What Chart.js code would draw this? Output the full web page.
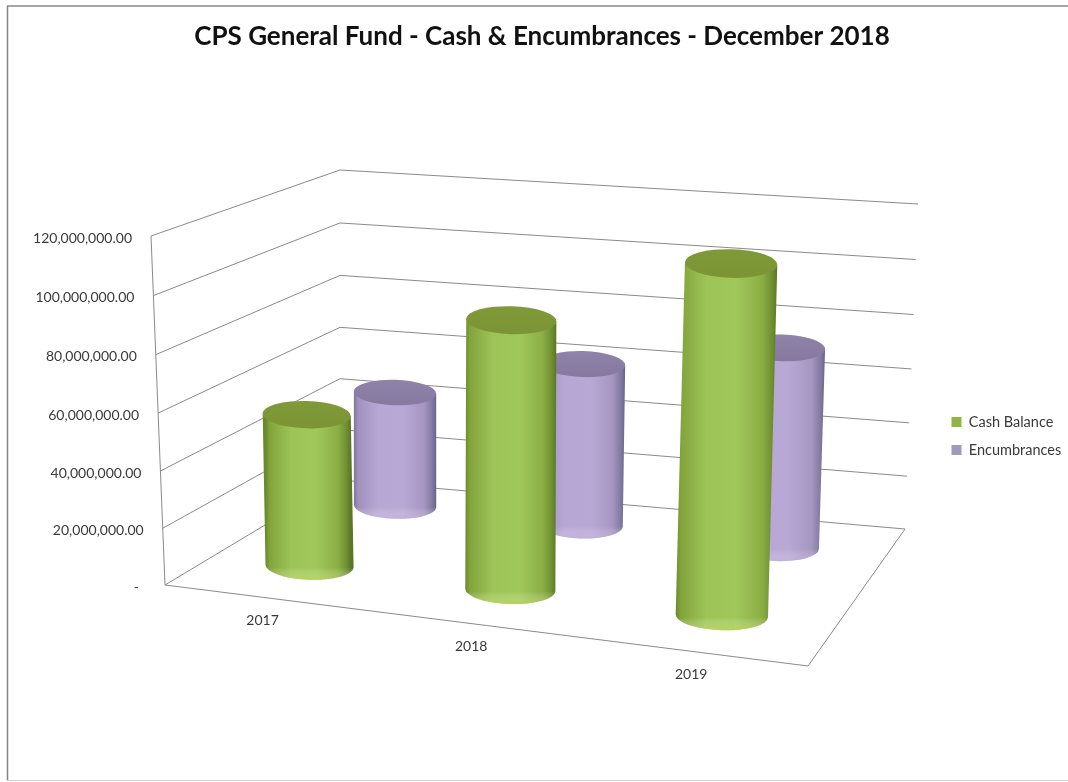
<!DOCTYPE html>
<html>
<head>
<meta charset="utf-8">
<title>CPS General Fund</title>
<script src="https://cdn.jsdelivr.net/npm/chart.js@4"></script>
<style>
  html, body { margin: 0; padding: 0; background: #fff; }
  canvas { display: block; }
</style>
</head>
<body>
<canvas id="chart" width="1068" height="782"></canvas>
<script>
// Values
const years = ['2017', '2018', '2019'];
const cashBalance = [54100000, 93300000, 118200000];
const encumbrances = [43500000, 60400000, 73000000];
const axisMax = 120000000;
const axisStep = 20000000;

// Corners of the 3D plot box on screen: floor and ceiling, front/back, left/right
const floor = { fl: [165, 585], fr: [808, 666], bl: [340, 480], br: [905, 529] };
const ceiling = { fl: [151, 236], fr: [822, 290], bl: [340, 170], br: [918, 204] };
const seriesDepth = [0.285, 0.83];
const radiusRatio = 0.129;
const capFlatness = 0.31;

const mix = (a, b, t) => [a[0] + (b[0] - a[0]) * t, a[1] + (b[1] - a[1]) * t];
function corner(plane, u, v) {
  return mix(mix(plane.fl, plane.fr, u), mix(plane.bl, plane.br, u), v);
}
// u: along categories, v: into the depth, w: up the value axis (slightly foreshortened)
function project(u, v, w) {
  const eased = w - 0.03 * w * (1 - w);
  return mix(corner(floor, u, v), corner(ceiling, u, v), eased);
}
// Spacing of objects standing on the floor narrows toward the far side of the box
const floorU = (u, v) => u - 0.08 * u * (1 - u) - 0.0101 * v;
const floorV = (u, v) => v * (1 - 0.075 * u * u);

const heightFraction = (scale, pixel) => (scale.bottom - pixel) / (scale.bottom - scale.top);
const categoryFraction = (scale, pixel) => (pixel - scale.left) / scale.width;

const palettes = [
  {
    body: [[0, '#6a8a2b'], [0.05, '#82a43b'], [0.3, '#9dc457'], [0.6, '#a0c75a'], [0.85, '#8bae45'], [0.95, '#6f8f30'], [1, '#5a7627']],
    capA: '#7c9433', capB: '#7f9a3a', rim: 'rgba(196,222,84,0.5)'
  },
  {
    body: [[0, '#7f7499'], [0.05, '#a091bd'], [0.3, '#b7a7d4'], [0.6, '#b8a8d5'], [0.85, '#a596c2'], [0.95, '#837aa0'], [1, '#6a628c']],
    capA: '#85799f', capB: '#8f83a9', rim: 'rgba(200,186,226,0.45)'
  }
];

// Bar controller that paints each bar element as a cylinder inside the plot box
class CylinderController extends Chart.BarController {
  draw() {
    const { ctx, scales } = this.chart;
    const meta = this._cachedMeta;
    const colors = palettes[this.index];
    const depth = seriesDepth[this.index];
    meta.data.forEach((bar) => {
      const rawU = categoryFraction(scales.x, bar.x);
      const u = floorU(rawU, depth);
      const v = floorV(rawU, depth);
      const wTop = heightFraction(scales.y, bar.y);
      const base = project(u, v, 0);
      const top = project(u, v, wTop);
      const full = project(u, v, 1);
      const rx = Math.hypot(full[0] - base[0], full[1] - base[1]) * radiusRatio;
      const ry = rx * capFlatness;
      const tilt = 0.03;
      const dx = Math.cos(tilt) * rx, dy = Math.sin(tilt) * rx;

      ctx.save();
      const body = ctx.createLinearGradient(base[0] - rx, 0, top[0] + rx, 0);
      colors.body.forEach(([stop, color]) => body.addColorStop(stop, color));
      ctx.beginPath();
      ctx.moveTo(top[0] - dx, top[1] - dy);
      ctx.lineTo(top[0] + dx, top[1] + dy);
      ctx.lineTo(base[0] + dx, base[1] + dy);
      ctx.ellipse(base[0], base[1], rx, ry, tilt, 0, Math.PI);
      ctx.closePath();
      ctx.fillStyle = body;
      ctx.fill();

      // lighter rim around the foot of the cylinder
      ctx.clip();
      const rim = ctx.createLinearGradient(0, base[1] + ry * 0.1, 0, base[1] + ry);
      rim.addColorStop(0, 'rgba(255,255,255,0)');
      rim.addColorStop(1, colors.rim);
      ctx.fillStyle = rim;
      ctx.fillRect(base[0] - rx - 2, base[1], rx * 2 + 4, ry + 2);
      ctx.restore();

      // flat top
      const cap = ctx.createLinearGradient(top[0], top[1] - ry, top[0], top[1] + ry);
      cap.addColorStop(0, colors.capB);
      cap.addColorStop(1, colors.capA);
      ctx.beginPath();
      ctx.ellipse(top[0], top[1], rx, ry, tilt, 0, Math.PI * 2);
      ctx.fillStyle = cap;
      ctx.fill();
    });
  }
}
CylinderController.id = 'cylinder';
CylinderController.defaults = Chart.BarController.defaults;
CylinderController.overrides = Chart.BarController.overrides;
Chart.register(CylinderController);

// Frame, side and back walls, floor outline; axis labels follow the sloped box
const plotBox = {
  id: 'plotBox',
  afterLayout(chart) {
    const legend = chart.legend;
    legend.left = 938; legend.right = 1068;
    legend.top += 45; legend.bottom += 45;
    chart.titleBlock.left += 8; chart.titleBlock.right += 8;
  },
  beforeDraw(chart) {
    const { ctx, scales: { x, y } } = chart;
    ctx.save();
    ctx.fillStyle = '#fff';
    ctx.fillRect(0, 0, chart.width, chart.height);
    ctx.strokeStyle = '#a6a6a6'; ctx.lineWidth = 2;
    ctx.beginPath(); ctx.moveTo(7, 6); ctx.lineTo(1068, 6); ctx.stroke();
    ctx.strokeStyle = '#858585'; ctx.lineWidth = 1.5;
    ctx.beginPath(); ctx.moveTo(7.5, 6); ctx.lineTo(7.5, 781); ctx.stroke();
    ctx.strokeStyle = '#cfcfcf'; ctx.lineWidth = 1;
    ctx.beginPath(); ctx.moveTo(7, 780.5); ctx.lineTo(1068, 780.5); ctx.stroke();
    ctx.restore();

    y.getLabelItems().forEach((item, i) => {
      const tick = y.ticks[i];
      const w = heightFraction(y, y.getPixelForValue(tick.value));
      const p = project(0, 0, w);
      item.options.translation = [p[0] - 19, p[1] + 2];
    });
    x.getLabelItems().forEach((item, i) => {
      const u = floorU(categoryFraction(x, x.getPixelForTick(i)), 0);
      const p = project(u, 0, 0);
      item.options.translation = [p[0] - 2.5, p[1] + 14];
      item.options.textBaseline = 'middle';
    });
  },
  beforeDatasetsDraw(chart) {
    const { ctx, scales: { y } } = chart;
    ctx.save();
    ctx.strokeStyle = '#8a8a8a';
    ctx.lineWidth = 1;
    ctx.beginPath();
    y.ticks.forEach((tick) => {
      const w = heightFraction(y, y.getPixelForValue(tick.value));
      const a = project(0, 0, w), b = project(0, 1, w), c = project(1, 1, w);
      ctx.moveTo(a[0], a[1]); ctx.lineTo(b[0], b[1]); ctx.lineTo(c[0], c[1]);
    });
    const o = project(0, 0, 0), t = project(0, 0, 1), r = project(1, 0, 0), e = project(1, 1, 0);
    ctx.moveTo(t[0], t[1]); ctx.lineTo(o[0], o[1]); ctx.lineTo(r[0], r[1]); ctx.lineTo(e[0], e[1]);
    ctx.stroke();
    ctx.restore();
  }
};

const shared = { type: 'cylinder', grouped: false, clip: false, borderWidth: 0 };

new Chart(document.getElementById('chart'), {
  data: {
    labels: years,
    datasets: [
      { ...shared, label: 'Cash Balance', data: cashBalance, backgroundColor: '#8fb645' },
      { ...shared, label: 'Encumbrances', data: encumbrances, backgroundColor: '#a09bba' }
    ]
  },
  options: {
    responsive: false,
    animation: false,
    events: [],
    layout: { padding: 0 },
    scales: {
      x: {
        type: 'category',
        offset: true,
        border: { display: false },
        grid: { display: false, drawTicks: false },
        ticks: { color: '#3a3a3a', font: { family: 'Lato', size: 14 }, maxRotation: 0, autoSkip: false },
        afterFit(scale) { scale.height = 197; }
      },
      y: {
        type: 'linear',
        min: 0,
        max: axisMax,
        border: { display: false },
        grid: { display: false, drawTicks: false },
        ticks: {
          stepSize: axisStep,
          color: '#3a3a3a',
          font: { family: 'Lato', size: 14 },
          callback: (value) => value === 0
            ? '-  '
            : value.toLocaleString('en-US', { minimumFractionDigits: 2, maximumFractionDigits: 2 })
        },
        afterFit(scale) { scale.width = 151; }
      }
    },
    plugins: {
      title: {
        display: true,
        text: 'CPS General Fund - Cash & Encumbrances - December 2018',
        color: '#111',
        font: { family: 'Lato', size: 26, weight: 'bold' },
        padding: { top: 21, bottom: 183.8 }
      },
      legend: {
        position: 'right',
        labels: {
          boxWidth: 10,
          boxHeight: 10,
          padding: 13.5,
          color: '#3a3a3a',
          font: { family: 'Lato', size: 14.5 }
        }
      },
      tooltip: { enabled: false }
    }
  },
  plugins: [plotBox]
});
</script>
</body>
</html>
